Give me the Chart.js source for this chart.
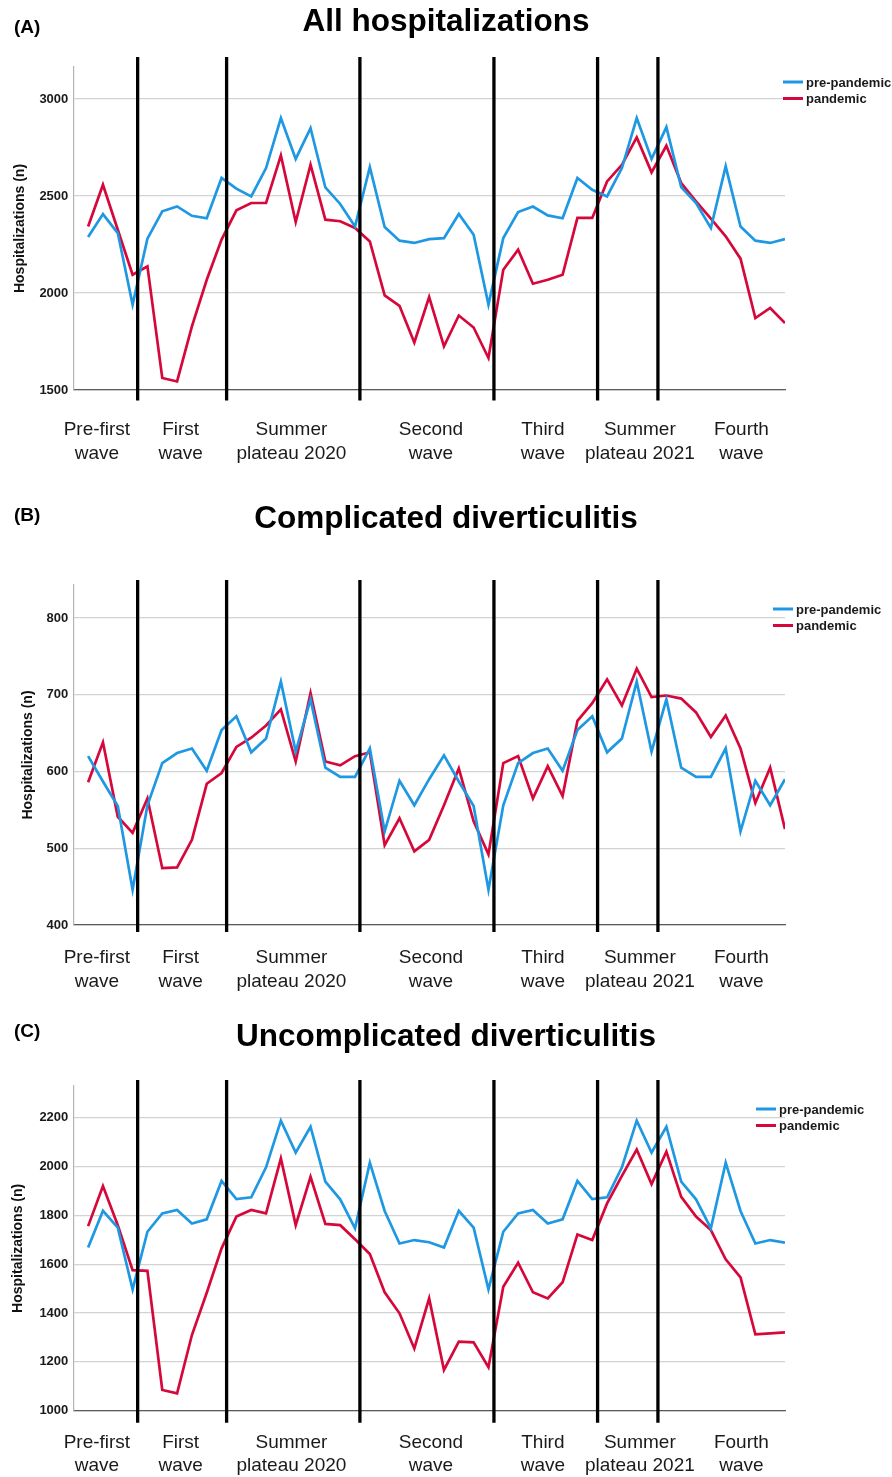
<!doctype html>
<meta charset="utf-8">
<title>Diverticulitis hospitalizations by pandemic wave</title>
<style>
    body {
        margin: 0;
        background: #fff;
        font-family: "Liberation Sans", Arial, sans-serif;
    }
    .page {
        position: relative;
        width: 892px;
        height: 1477px;
        overflow: hidden;
    }
    .panel {
        position: absolute;
        left: 0;
    }
    .tag {
        position: absolute;
        left: 14px;
        font-weight: bold;
        font-size: 19px;
        line-height: 19px;
        color: #000;
    }
</style>
<body>
<div class="page">
    <div class="panel" style="top: 0px"><canvas id="chartA" width="892" height="480"></canvas></div>
    <div class="panel" style="top: 490px"><canvas id="chartB" width="892" height="510"></canvas></div>
    <div class="panel" style="top: 1005px"><canvas id="chartC" width="892" height="472"></canvas></div>
    <div class="tag" style="top: 17px">(A)</div>
    <div class="tag" style="top: 505px">(B)</div>
    <div class="tag" style="top: 1021px">(C)</div>
</div>
<script src="https://cdn.jsdelivr.net/npm/chart.js@4/dist/chart.umd.min.js"></script>
<script>
    // wave periods on the x axis (period index, 0 = first period)
    const waveLabels = [
        ["Pre-first", "wave"],
        ["First", "wave"],
        ["Summer", "plateau 2020"],
        ["Second", "wave"],
        ["Third", "wave"],
        ["Summer", "plateau 2021"],
        ["Fourth", "wave"],
    ];
    const waveLabelAt = [0.59, 6.24, 13.71, 23.12, 30.67, 37.21, 44.06];
    const waveBoundaries = [3.34, 9.34, 18.33, 27.37, 34.36, 38.43];

    const seriesNames = ["pre-pandemic", "pandemic"];

    // (A) all hospitalizations
    const allPre = [2289, 2407, 2309, 1940, 2280, 2421, 2446, 2398, 2385, 2593, 2538, 2498,
        2644, 2902, 2691, 2850, 2544, 2459, 2343, 2649, 2340, 2270, 2258, 2278,
        2283, 2407, 2300, 1940, 2283, 2417, 2446, 2400, 2385, 2593, 2532, 2498,
        2644, 2902, 2691, 2855, 2546, 2464, 2335, 2653, 2343, 2270, 2258, 2278];
    const allPan = [2343, 2558, 2326, 2094, 2137, 1562, 1544, 1828, 2068, 2275, 2426, 2464,
        2464, 2709, 2366, 2661, 2378, 2370, 2335, 2266, 1988, 1934, 1745, 1979,
        1725, 1884, 1822, 1665, 2120, 2223, 2048, 2068, 2094, 2387, 2387, 2575,
        2661, 2802, 2622, 2759, 2567, 2472, 2383, 2292, 2177, 1871, 1923, 1845];
    const allTicks = [1500, 2000, 2500, 3000];

    // (B) complicated diverticulitis
    const compPre = [620, 587, 555, 446, 556, 611, 624, 630, 601, 654, 672, 625,
        643, 717, 626, 694, 605, 593, 593, 630, 522, 588, 556, 590,
        621, 587, 555, 446, 556, 611, 624, 630, 601, 654, 672, 625,
        643, 717, 626, 694, 605, 593, 593, 630, 522, 588, 556, 590];
    const compPan = [586, 638, 541, 520, 565, 474, 475, 511, 584, 598, 632, 644,
        660, 681, 613, 702, 613, 608, 620, 625, 504, 539, 496, 511,
        556, 604, 535, 492, 611, 620, 565, 607, 568, 666, 689, 720,
        686, 734, 697, 699, 695, 677, 645, 673, 630, 559, 605, 525];
    const compTicks = [400, 500, 600, 700, 800];

    // (C) uncomplicated diverticulitis
    const uncPre = [1668, 1819, 1750, 1497, 1733, 1808, 1822, 1767, 1784, 1941, 1867, 1874,
        1997, 2188, 2057, 2163, 1938, 1866, 1747, 2016, 1818, 1685, 1699, 1690,
        1668, 1819, 1750, 1497, 1733, 1808, 1822, 1767, 1784, 1941, 1867, 1874,
        1997, 2188, 2057, 2163, 1938, 1866, 1747, 2016, 1818, 1685, 1699, 1688];
    const uncPan = [1756, 1920, 1760, 1576, 1573, 1085, 1071, 1310, 1483, 1665, 1795, 1822,
        1808, 2033, 1760, 1958, 1765, 1760, 1702, 1642, 1485, 1399, 1255, 1460,
        1167, 1283, 1280, 1178, 1508, 1606, 1485, 1460, 1526, 1722, 1699, 1849,
        1962, 2070, 1928, 2061, 1876, 1795, 1740, 1620, 1546, 1313, 1317, 1321];
    const uncTicks = [1000, 1200, 1400, 1600, 1800, 2000, 2200];

    const FONT = "'Liberation Sans', Arial, sans-serif";
    Chart.defaults.font.family = FONT;
    Chart.defaults.color = "#1a1a1a";

    const colors = ["#1e98e2", "#d6083b"];
    const TITLE_SIZE = 31.5;

    // black wave boundaries + the small legend to the right of the plot
    const wavePlugin = {
        id: "waves",
        afterDatasetsDraw(chart, args, opts) {
            const {ctx, chartArea, scales: {x}} = chart;
            ctx.save();
            ctx.strokeStyle = "#000";
            ctx.lineWidth = 3.3;
            waveBoundaries.forEach(b => {
                const px = x.getPixelForValue(b);
                ctx.beginPath();
                ctx.moveTo(px, chartArea.top - opts.above);
                ctx.lineTo(px, chartArea.bottom + opts.below);
                ctx.stroke();
            });
            ctx.font = "bold 13px " + FONT;
            ctx.textBaseline = "middle";
            ctx.fillStyle = "#1a1a1a";
            chart.data.datasets.forEach((ds, i) => {
                const y = opts.legendY + i * opts.legendGap;
                ctx.strokeStyle = ds.borderColor;
                ctx.lineWidth = 3;
                ctx.beginPath();
                ctx.moveTo(opts.legendX, y);
                ctx.lineTo(opts.legendX + 20, y);
                ctx.stroke();
                ctx.fillText(ds.label, opts.legendX + 23, y + 1);
            });
            ctx.restore();
        }
    };

    const plot = (id, title, pre, pan, ticks, yMin, yMax, lay) => {
        const canvas = document.getElementById(id);
        const xHeight = canvas.height - lay.bottom;
        return new Chart(canvas, {
            type: "line",
            data: {
                datasets: [pre, pan].map((values, i) => ({
                    label: seriesNames[i],
                    data: values.map((v, k) => ({x: k, y: v})),
                    borderColor: colors[i],
                    borderWidth: 2.7,
                    pointRadius: 0,
                    tension: 0,
                    fill: false,
                })),
            },
            plugins: [wavePlugin],
            options: {
                responsive: false,
                animation: false,
                devicePixelRatio: 1,
                layout: {padding: 0},
                plugins: {
                    legend: {display: false},
                    tooltip: {enabled: false},
                    title: {
                        display: true,
                        text: title,
                        color: "#000",
                        font: {size: TITLE_SIZE, weight: "bold", lineHeight: 1},
                        padding: {top: lay.titleTop, bottom: lay.top - lay.titleTop - TITLE_SIZE},
                    },
                    waves: {
                        above: lay.above,
                        below: lay.below,
                        legendX: lay.legendX,
                        legendY: lay.legendY,
                        legendGap: lay.legendGap,
                    },
                },
                scales: {
                    x: {
                        type: "linear",
                        min: -1,
                        max: 47,
                        afterBuildTicks: s => { s.ticks = waveLabelAt.map(v => ({value: v})); },
                        afterFit: s => { s.height = xHeight; },
                        grid: {display: false, drawTicks: false},
                        border: {display: true, color: "#5a5a5a", width: 1.2},
                        ticks: {
                            autoSkip: false,
                            maxRotation: 0,
                            minRotation: 0,
                            padding: lay.labelPad,
                            color: "#1a1a1a",
                            font: {size: 19, lineHeight: 1.24},
                            callback: (v, i) => waveLabels[i],
                        },
                    },
                    y: {
                        min: yMin,
                        max: yMax,
                        bounds: "data",
                        afterBuildTicks: s => { s.ticks = ticks.map(v => ({value: v})); },
                        afterFit: s => { s.width = 73.3; },
                        grid: {color: "#d3d3d3", lineWidth: 1.2, drawTicks: false},
                        border: {display: true, color: "#b5b5b5", width: 1.2},
                        ticks: {
                            padding: 5,
                            color: "#1a1a1a",
                            font: {size: 13, weight: "bold"},
                            callback: v => String(v),
                        },
                        title: {
                            display: true,
                            text: "Hospitalizations (n)",
                            color: "#111",
                            font: {size: 14, weight: "bold"},
                            padding: {top: lay.yTitlePad, bottom: 0},
                        },
                    },
                    // empty right-hand axis: keeps room for the legend without shifting the title
                    room: {
                        type: "linear",
                        position: "right",
                        afterFit: s => { s.width = 107; },
                        grid: {display: false, drawTicks: false},
                        border: {display: false},
                        ticks: {display: false},
                    },
                },
            },
        });
    };

    plot("chartA", "All hospitalizations", allPre, allPan, allTicks, 1500, 3165,
        {top: 67, bottom: 390, titleTop: 7, above: 10, below: 10.5, labelPad: 28,
         yTitlePad: 11.6, legendX: 783, legendY: 82, legendGap: 16.5});
    plot("chartB", "Complicated diverticulitis", compPre, compPan, compTicks, 400, 843,
        {top: 95, bottom: 435, titleTop: 14, above: 5, below: 7, labelPad: 21,
         yTitlePad: 20, legendX: 773, legendY: 119, legendGap: 16.5});
    plot("chartC", "Uncomplicated diverticulitis", uncPre, uncPan, uncTicks, 1000, 2330,
        {top: 81, bottom: 405.7, titleTop: 17, above: 6, below: 12, labelPad: 20,
         yTitlePad: 9.6, legendX: 756, legendY: 104, legendGap: 16.5});
</script>
</body>
